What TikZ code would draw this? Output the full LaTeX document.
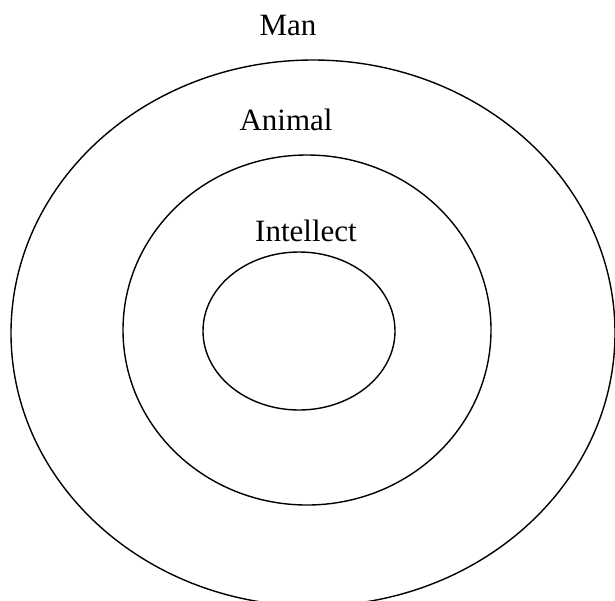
\documentclass[tikz,border=0pt]{standalone}
\usepackage{fontspec}
\setmainfont{Liberation Serif}
\begin{document}
\begin{tikzpicture}[x=1pt,y=-1pt,
  ring/.style={draw=black,line width=1.4pt},
  lbl/.style={anchor=base,inner sep=0pt,font=\fontsize{31}{36}\selectfont}]
\useasboundingbox (0,0) rectangle (615,600);
\begin{scope}
\clip (0,0) rectangle (615,600);
\draw[ring] (313,333) ellipse [x radius=302, y radius=273];
\end{scope}
\draw[ring] (307,330) ellipse [x radius=184, y radius=175];
\draw[ring] (299,331) ellipse [x radius=96, y radius=79];
\node[lbl] (man) at (288,35) {Man};
\node[lbl] (animal) at (286,130) {Animal};
\node[lbl] (intellect) at (306,241.5) {Intellect};
\end{tikzpicture}
\end{document}
